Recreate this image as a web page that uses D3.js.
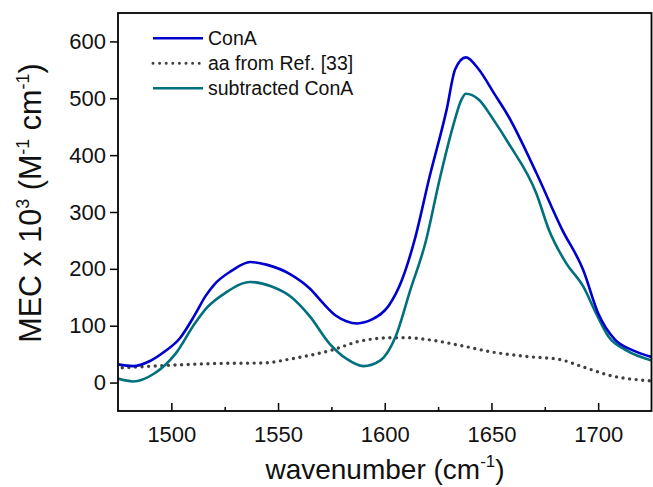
<!DOCTYPE html>
<html>
<head>
<meta charset="utf-8">
<script src="https://cdn.jsdelivr.net/npm/d3@7"></script>
<style>
  body { margin: 0; background: #fff; }
  svg { display: block; font-family: Arial, "Liberation Sans", sans-serif; }
</style>
</head>
<body>
<svg id="chart" width="653" height="487"></svg>
<script>
// ---- data ----
const conaX = [1475, 1482, 1490, 1497, 1504, 1511, 1516, 1520, 1528, 1537, 1545, 1556, 1565, 1571, 1577, 1582, 1587, 1594, 1602, 1608, 1614, 1621, 1629, 1633, 1638, 1644, 1651, 1658, 1671, 1683, 1693, 1700, 1708, 1716, 1725];
const conaY = [32, 29, 38, 55, 78, 119, 152, 172, 196, 212, 207, 190, 165, 140, 118, 108, 104, 111, 136, 180, 251, 362, 480, 551, 572, 551, 510, 468, 369, 270, 198, 122, 75, 57, 45];

const aaX = [1477, 1497, 1520, 1544, 1555, 1565, 1576, 1587, 1602, 1610, 1622, 1637, 1650, 1666, 1682, 1693, 1705, 1725];
const aaY = [26, 30, 33.5, 34.6, 41, 48, 58, 71.6, 78.7, 79, 74.6, 64, 54, 46, 40.5, 27.5, 13, 3];

const subX = [1475, 1482, 1492, 1502, 1511, 1517, 1525, 1537, 1547, 1556, 1565, 1574, 1582, 1590, 1598, 1605, 1612, 1619, 1626, 1632, 1636, 1638, 1644, 1651, 1658, 1671, 1677, 1685, 1693, 1699, 1705, 1713, 1725];
const subY = [7, 2, 16, 51, 104, 133, 157, 177, 169, 151, 116, 69, 42, 29, 39, 80, 163, 245, 362, 451, 498, 508, 498, 462, 421, 333, 268, 210, 169, 122, 80, 57, 39];

const xTicks = [1500, 1550, 1600, 1650, 1700];
const xMinorTicks = [1525, 1575, 1625, 1675];
const yTicks = [0, 100, 200, 300, 400, 500, 600];

const seriesNames = ["ConA", "aa from Ref. [33]", "subtracted ConA"];
const seriesColors = ["#0000CC", "#404040", "#00707E"];

// ---- layout ----
const svg = d3.select("#chart");
const W = 653, H = 487;
const m = { left: 118, top: 13, right: 1.5, bottom: 76 };
const pw = W - m.left - m.right, ph = H - m.top - m.bottom;

const x = d3.scaleLinear().domain([1475, 1725]).range([m.left, m.left + pw]);
const y = d3.scaleLinear().domain([-50, 650]).range([m.top + ph, m.top]);

svg.append("defs").append("clipPath").attr("id", "clip")
  .append("rect").attr("x", m.left).attr("y", m.top).attr("width", pw).attr("height", ph);

const line = d3.line().x(d => x(d[0])).y(d => y(d[1])).curve(d3.curveMonotoneX);

const g = svg.append("g").attr("clip-path", "url(#clip)");
const mk = (xs, ys) => xs.map((v, i) => [v, ys[i]]);

g.append("path").datum(mk(aaX, aaY)).attr("d", line)
  .attr("fill", "none").attr("stroke", seriesColors[1]).attr("stroke-width", 3.4)
  .attr("stroke-linecap", "round").attr("stroke-dasharray", "0 6.6");
g.append("path").datum(mk(subX, subY)).attr("d", line)
  .attr("fill", "none").attr("stroke", seriesColors[2]).attr("stroke-width", 2.6);
g.append("path").datum(mk(conaX, conaY)).attr("d", line)
  .attr("fill", "none").attr("stroke", seriesColors[0]).attr("stroke-width", 2.6);

// axes
const xAxis = d3.axisBottom(x).tickValues(xTicks).tickSizeInner(-8).tickSizeOuter(0).tickPadding(15).tickFormat(d3.format("d"));
const xg = svg.append("g").attr("transform", `translate(0,${m.top + ph})`).call(xAxis);
xg.select(".domain").remove();
xg.selectAll("line").attr("stroke", "#000").attr("stroke-width", 1.5);
xg.selectAll("text").attr("font-size", 22).attr("fill", "#111").attr("font-family", "Arial, 'Liberation Sans', sans-serif");

const xMinor = d3.axisBottom(x).tickValues(xMinorTicks).tickSizeInner(-4).tickSizeOuter(0).tickFormat("");
const xmg = svg.append("g").attr("transform", `translate(0,${m.top + ph})`).call(xMinor);
xmg.select(".domain").remove();
xmg.selectAll("line").attr("stroke", "#000").attr("stroke-width", 1.5);

const yAxis = d3.axisLeft(y).tickValues(yTicks).tickSizeInner(8).tickSizeOuter(0).tickPadding(4);
const yg = svg.append("g").attr("transform", `translate(${m.left},0)`).call(yAxis);
yg.select(".domain").remove();
yg.selectAll("line").attr("stroke", "#000").attr("stroke-width", 1.5);
yg.selectAll("text").attr("font-size", 22).attr("fill", "#111").attr("font-family", "Arial, 'Liberation Sans', sans-serif");

// frame
svg.append("rect").attr("x", m.left).attr("y", m.top).attr("width", pw).attr("height", ph)
  .attr("fill", "none").attr("stroke", "#000").attr("stroke-width", 1.8);

// axis titles
const xt = svg.append("text").attr("x", 385).attr("y", 479).attr("text-anchor", "middle")
  .attr("font-size", 28).attr("fill", "#111");
xt.append("tspan").text("wavenumber (cm");
xt.append("tspan").text("-1").attr("font-size", 17).attr("dy", -12);
xt.append("tspan").text(")").attr("dy", 12);

const yt = svg.append("text").attr("transform", "translate(41,203) rotate(-90)")
  .attr("text-anchor", "middle").attr("font-size", 30.5).attr("fill", "#111");
yt.append("tspan").text("MEC x 10");
yt.append("tspan").text("3").attr("font-size", 18).attr("dy", -12);
yt.append("tspan").text(" (M").attr("dy", 12);
yt.append("tspan").text("-1").attr("font-size", 18).attr("dy", -12);
yt.append("tspan").text(" cm").attr("dy", 12);
yt.append("tspan").text("-1").attr("font-size", 18).attr("dy", -12);
yt.append("tspan").text(")").attr("dy", 12);

// legend
const legY = [38.3, 63.3, 88.3];
const leg = svg.append("g");
seriesNames.forEach((name, i) => {
  const l = leg.append("line").attr("x1", 153).attr("x2", 203).attr("y1", legY[i]).attr("y2", legY[i])
    .attr("stroke", seriesColors[i]);
  if (i === 1) {
    l.attr("stroke-width", 3).attr("stroke-linecap", "round").attr("stroke-dasharray", "0 6.6");
  } else {
    l.attr("stroke-width", 2.6);
  }
  leg.append("text").attr("x", 208).attr("y", legY[i] + 7).attr("font-size", 19.5).attr("fill", "#111").text(name);
});
</script>
</body>
</html>
